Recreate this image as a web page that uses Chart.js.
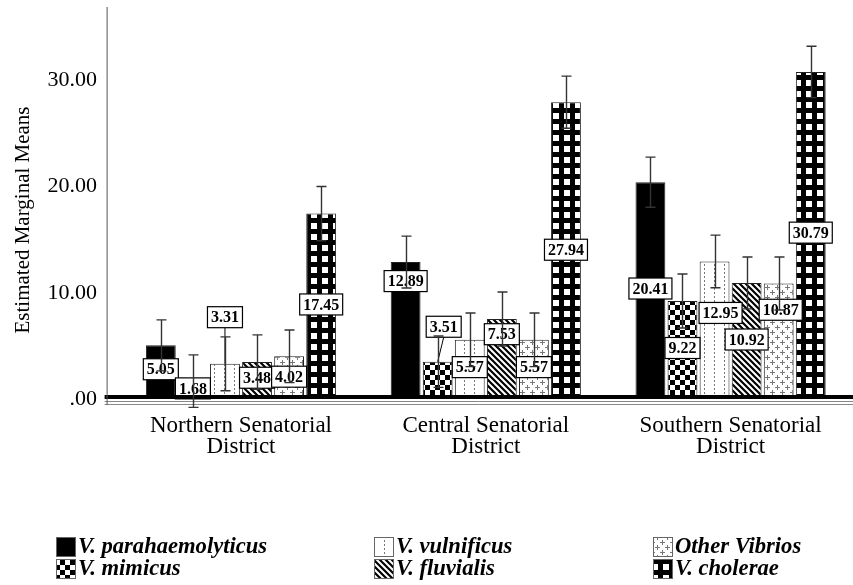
<!DOCTYPE html>
<html>
<head>
<meta charset="utf-8">
<script src="https://cdn.jsdelivr.net/npm/chart.js@4.4.1/dist/chart.umd.min.js"></script>
<style>
  html, body { margin: 0; padding: 0; background: #fff; overflow: hidden; }
  #wrap { width: 853px; height: 585px; position: relative; }
</style>
</head>
<body>
<div id="wrap"><canvas id="chart" width="853" height="585"></canvas></div>
<script>
// ---- data ----
const districts = [
  ["Northern Senatorial", "District"],
  ["Central Senatorial", "District"],
  ["Southern Senatorial", "District"]
];
const species = ["V. parahaemolyticus", "V. mimicus", "V. vulnificus", "V. fluvialis", "Other Vibrios", "V. cholerae"];

const parahaemolyticus = [5.05, 12.89, 20.41];
const mimicus          = [1.68, 3.51, 9.22];
const vulnificus       = [3.31, 5.57, 12.95];
const fluvialis        = [3.48, 7.53, 10.92];
const otherVibrios     = [4.02, 5.57, 10.87];
const cholerae         = [17.45, 27.94, 30.79];

// half-length of each error bar (per district)
const errParahaemolyticus = [2.40, 2.44, 2.36];
const errMimicus          = [2.47, 2.42, 2.54];
const errVulnificus       = [2.54, 2.52, 2.48];
const errFluvialis        = [2.56, 2.54, 2.44];
const errOtherVibrios     = [2.48, 2.52, 2.49];
const errCholerae         = [2.55, 2.45, 2.42];

const yTicks = [0, 10, 20, 30];
const yMax = 36.9;

const seriesValues = [parahaemolyticus, mimicus, vulnificus, fluvialis, otherVibrios, cholerae];
const seriesErrors = [errParahaemolyticus, errMimicus, errVulnificus, errFluvialis, errOtherVibrios, errCholerae];

// ---- label placement (value units for the box centre, pixel nudge sideways) ----
const labelCentres = [
  [2.8, 11.1, 10.4],
  [1.0, 6.8, 4.8],
  [7.7, 3.0, 8.1],
  [2.0, 6.1, 5.6],
  [2.1, 3.0, 8.4],
  [8.9, 14.05, 15.66]
];
const labelNudges = [
  [0, 0, 0],
  [0, 6, 0],
  [0, 0, 6],
  [0, 0, 0],
  [0, 0, 2],
  [0, 0, 0]
];

const SERIF = '"Liberation Serif", "Times New Roman", serif';

// ---- fill patterns ----
function makeTile(w, h, paint) {
  const c = document.createElement('canvas');
  c.width = w; c.height = h;
  const g = c.getContext('2d');
  paint(g, w, h);
  return document.getElementById('chart').getContext('2d').createPattern(c, 'repeat');
}
const fills = [
  '#000000',
  // checkerboard
  makeTile(10, 10, (g) => {
    g.fillStyle = '#fff'; g.fillRect(0, 0, 10, 10);
    g.fillStyle = '#000'; g.fillRect(0, 0, 5, 5); g.fillRect(5, 5, 5, 5);
  }),
  // dotted verticals
  makeTile(10, 4, (g) => {
    g.fillStyle = '#fff'; g.fillRect(0, 0, 10, 4);
    g.fillStyle = '#777'; g.fillRect(4, 0, 1, 2);
  }),
  // diagonal hatch
  makeTile(6, 6, (g) => {
    g.fillStyle = '#fff'; g.fillRect(0, 0, 6, 6);
    g.strokeStyle = '#000'; g.lineWidth = 2.2;
    g.beginPath();
    g.moveTo(-1, -1); g.lineTo(7, 7);
    g.moveTo(-4, 2); g.lineTo(4, 10);
    g.moveTo(2, -4); g.lineTo(10, 4);
    g.stroke();
  }),
  // small crosses
  makeTile(10, 10, (g) => {
    g.fillStyle = '#fff'; g.fillRect(0, 0, 10, 10);
    g.fillStyle = '#777';
    g.fillRect(2, 0, 1, 5); g.fillRect(0, 2, 5, 1);
    g.fillRect(7, 5, 1, 5); g.fillRect(5, 7, 5, 1);
  }),
  // black with white squares
  makeTile(11, 11, (g) => {
    g.fillStyle = '#000'; g.fillRect(0, 0, 11, 11);
    g.fillStyle = '#fff'; g.fillRect(3, 3, 6, 6);
  })
];

// ---- drawing extras: value boxes, baseline, axis line, error bars, title, legend ----
const extras = {
  id: 'extras',
  afterDraw(chart) {
    const ctx = chart.ctx;
    const ys = chart.scales.y;
    const area = chart.chartArea;
    const zero = ys.getPixelForValue(0);
    const axisX = area.left - 12;
    ctx.save();

    // value boxes
    ctx.font = 'bold 16px ' + SERIF;
    ctx.textAlign = 'center';
    ctx.textBaseline = 'middle';
    chart.data.datasets.forEach((ds, di) => {
      chart.getDatasetMeta(di).data.forEach((bar, i) => {
        const txt = ds.data[i].toFixed(2);
        const cx = bar.x + labelNudges[di][i];
        const cy = ys.getPixelForValue(labelCentres[di][i]);
        const w = ctx.measureText(txt).width + 7;
        const h = 21;
        if (cy + h / 2 < bar.y) {
          ctx.strokeStyle = '#000'; ctx.lineWidth = 1;
          ctx.beginPath(); ctx.moveTo(cx, cy + h / 2); ctx.lineTo(bar.x, bar.y); ctx.stroke();
        }
        ctx.fillStyle = '#fff';
        ctx.fillRect(cx - w / 2, cy - h / 2, w, h);
        ctx.strokeStyle = '#000'; ctx.lineWidth = 1.2;
        ctx.strokeRect(cx - w / 2, cy - h / 2, w, h);
        ctx.fillStyle = '#000';
        ctx.fillText(txt, cx, cy + 1);
      });
    });

    // baseline: heavy rule with a double rule beneath
    ctx.fillStyle = '#000';
    ctx.fillRect(axisX - 2, zero - 4, area.right - axisX + 2, 4);
    ctx.strokeStyle = '#888'; ctx.lineWidth = 1;
    ctx.beginPath();
    ctx.moveTo(axisX - 2, zero + 2.5); ctx.lineTo(area.right, zero + 2.5);
    ctx.moveTo(axisX - 2, zero + 5.5); ctx.lineTo(area.right, zero + 5.5);
    ctx.stroke();

    // vertical axis line
    ctx.strokeStyle = '#555'; ctx.lineWidth = 1;
    ctx.beginPath(); ctx.moveTo(axisX + 0.5, area.top); ctx.lineTo(axisX + 0.5, zero + 6); ctx.stroke();

    // error bars
    ctx.strokeStyle = '#333'; ctx.lineWidth = 1.4;
    chart.data.datasets.forEach((ds, di) => {
      chart.getDatasetMeta(di).data.forEach((bar, i) => {
        const v = ds.data[i], e = seriesErrors[di][i];
        const top = ys.getPixelForValue(v + e);
        const bot = ys.getPixelForValue(v - e);
        const x = Math.round(bar.x) + 0.5;
        ctx.beginPath();
        ctx.moveTo(x, top); ctx.lineTo(x, bot);
        ctx.moveTo(x - 5, top); ctx.lineTo(x + 5, top);
        ctx.moveTo(x - 5, bot); ctx.lineTo(x + 5, bot);
        ctx.stroke();
      });
    });

    // y-axis title
    ctx.save();
    ctx.translate(23, 220);
    ctx.rotate(-Math.PI / 2);
    ctx.font = '21px ' + SERIF;
    ctx.fillStyle = '#000';
    ctx.textAlign = 'center'; ctx.textBaseline = 'middle';
    ctx.fillText('Estimated Marginal Means', 0, 0);
    ctx.restore();

    // legend, three columns of two
    const colX = [56, 374, 653];
    const rowY = [537, 559];
    ctx.font = 'italic bold 22.6px ' + SERIF;
    ctx.textAlign = 'left'; ctx.textBaseline = 'middle';
    chart.data.datasets.forEach((ds, di) => {
      const x = colX[Math.floor(di / 2)];
      const y = rowY[di % 2];
      ctx.fillStyle = ds.backgroundColor;
      ctx.fillRect(x, y, 20, 20);
      ctx.strokeStyle = '#666'; ctx.lineWidth = 1;
      ctx.strokeRect(x + 0.5, y + 0.5, 19, 19);
      ctx.fillStyle = '#000';
      ctx.fillText(ds.label, x + 22, y + 10);
    });

    ctx.restore();
  }
};

new Chart(document.getElementById('chart'), {
  type: 'bar',
  data: {
    labels: districts,
    datasets: species.map((name, k) => ({
      label: name,
      data: seriesValues[k],
      backgroundColor: fills[k],
      borderColor: '#222',
      borderWidth: 1,
      barPercentage: 0.93,
      categoryPercentage: 0.786
    }))
  },
  options: {
    responsive: false,
    animation: false,
    devicePixelRatio: 1,
    layout: { autoPadding: false, padding: { top: 7, left: 0, right: 0, bottom: 0 } },
    plugins: { legend: { display: false }, tooltip: { enabled: false } },
    scales: {
      x: {
        grid: { display: false, drawTicks: false },
        border: { display: false },
        ticks: {
          color: '#000',
          font: { family: SERIF, size: 23, lineHeight: 0.92 },
          padding: 16,
          maxRotation: 0,
          autoSkip: false
        },
        afterFit(scale) {
          scale.height = 186;
          scale.paddingLeft = 0; scale.paddingRight = 0;
        }
      },
      y: {
        min: 0,
        max: yMax,
        grid: { display: false, drawTicks: false },
        border: { display: false },
        afterBuildTicks(scale) { scale.ticks = yTicks.map(v => ({ value: v })); },
        ticks: {
          color: '#000',
          font: { family: SERIF, size: 22 },
          padding: 21.6,
          callback: (v) => (v === 0 ? '.00' : v.toFixed(2))
        },
        afterFit(scale) {
          scale.width = 118.6;
          scale.paddingTop = 0; scale.paddingBottom = 0;
        }
      }
    }
  },
  plugins: [extras]
});
</script>
</body>
</html>
